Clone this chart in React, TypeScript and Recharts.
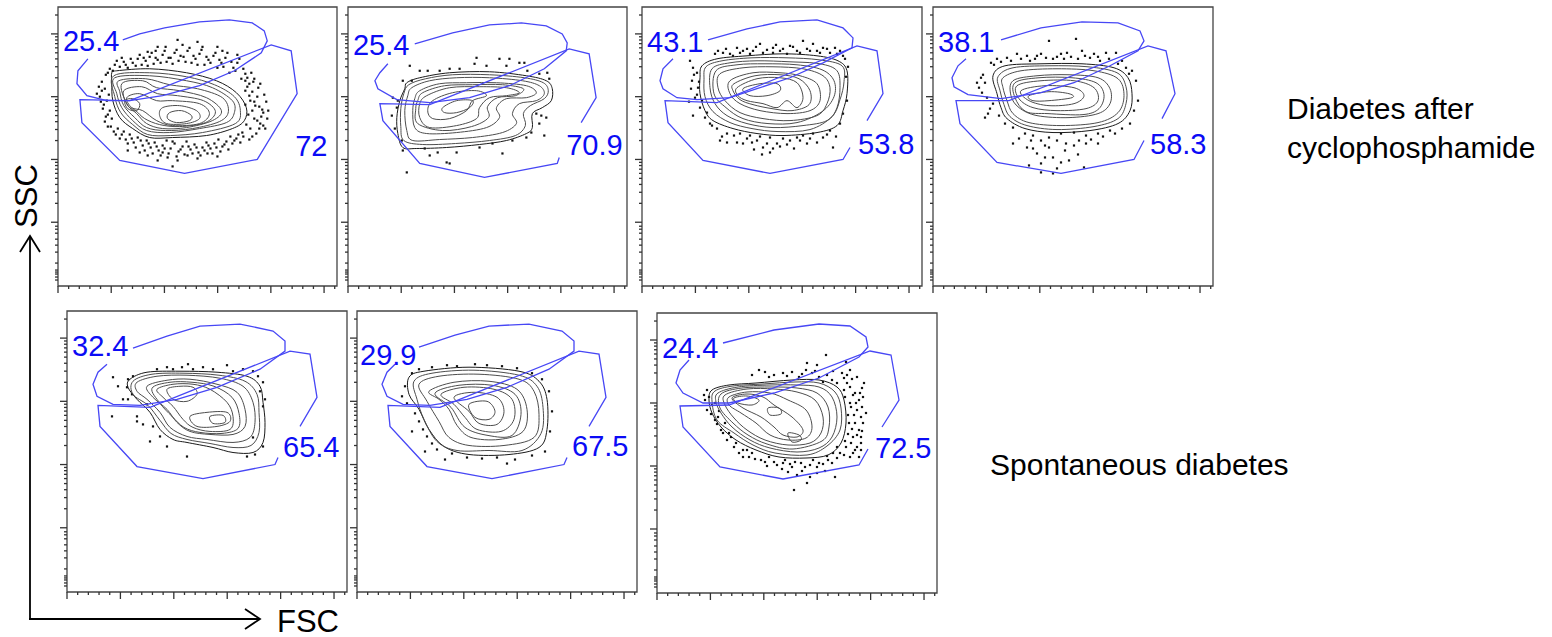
import React from 'react';
import { ScatterChart, Scatter, XAxis, YAxis, ReferenceArea } from 'recharts';

type P = [number, number];

// ---------- axis scales (display channels, 0..280 on both axes) ----------
const AXIS_MAX = 280;
const FSC_MAX = 262144;
const fscTickValues = [0, 10000, 20000, 30000, 40000, 50000, 60000, 70000, 80000, 90000, 100000, 110000, 120000, 130000, 140000, 150000, 160000, 170000, 180000, 190000, 200000, 210000, 220000, 230000, 240000, 250000, 260000];
const fscMajorValues = [0, 50000, 100000, 150000, 200000, 250000];
const sscMajorValues = [100, 1000, 10000, 100000];
const sscMinorMultipliers = [2, 3, 4, 5, 6, 7, 8, 9];
const sscLowTickChannels = [6, 9, 12, 14, 16, 23, 34, 41, 47, 53, 57, 60];

// ---------- Panel 1 : Diabetes after cyclophosphamide ----------
const p1Ellipse: P[] = [[30, 228], [20, 216], [19, 203], [29, 191], [49, 186], [72, 186], [105, 191], [142, 201], [177, 216], [204, 234], [210, 246], [207, 256], [195, 264], [172, 267], [142, 265], [107, 259], [82, 253], [65, 247]];
const p1Gate: P[] = [[22, 187], [24, 164], [62, 126], [127, 113], [200, 127], [240, 193], [234, 236], [214, 242], [72, 186], [22, 187]];
const p1Contours: P[][] = [
  [[54, 214], [59, 216], [92, 218], [129, 214], [159, 206], [179, 194], [189, 179], [187, 166], [175, 158], [149, 151], [115, 149], [92, 149], [75, 158], [62, 169], [55, 186], [54, 203]],
  [[56, 211], [92, 214], [129, 210], [157, 202], [177, 190], [183, 176], [178, 163], [145, 154], [113, 151], [90, 152], [75, 162], [63, 174], [57, 190]],
  [[57, 209], [92, 211], [129, 206], [155, 199], [175, 186], [177, 174], [169, 164], [142, 158], [112, 154], [89, 156], [75, 166], [64, 179], [59, 193]],
  [[61, 206], [88, 208], [112, 202], [140, 198], [165, 189], [171, 175], [162, 165], [135, 158], [108, 156], [89, 159], [77, 169], [66, 181], [62, 195]],
  [[64, 203], [85, 206], [99, 199], [122, 196], [149, 189], [164, 176], [155, 166], [129, 159], [105, 158], [89, 163], [79, 173], [69, 183]],
  [[66, 196], [84, 200], [100, 193], [120, 191], [146, 186], [158, 175], [148, 164], [122, 160], [102, 162], [87, 168], [78, 176], [70, 181]],
  [[69, 189], [82, 193], [99, 186], [115, 186], [142, 183], [152, 173], [142, 163], [115, 161], [99, 166], [85, 176], [74, 179]],
  [[105, 179], [122, 181], [139, 176], [142, 168], [129, 163], [109, 163], [102, 171]],
  [[112, 174], [124, 176], [134, 171], [132, 166], [119, 164], [110, 168]],
  [[67, 186], [75, 188], [82, 183], [79, 176], [70, 178]],
];
const p1Dots: P[] = [
  [48, 212], [52, 218], [57, 222], [62, 220], [66, 225], [70, 219], [75, 224], [80, 228], [84, 222], [88, 226], [92, 230], [96, 223], [100, 227], [105, 232], [109, 225], [113, 229], [117, 234], [121, 226], [126, 230], [130, 236], [134, 224], [138, 228], [142, 233], [147, 222], [151, 227], [156, 231], [160, 219], [164, 224], [168, 229], [172, 214], [176, 219], [180, 224], [184, 208], [188, 213], [192, 203], [125, 242], [108, 240], [145, 240], [98, 236], [165, 236], [180, 232],
  [50, 214], [55, 216], [59, 226], [64, 229], [68, 222], [73, 228], [78, 221], [82, 232], [86, 229], [90, 221], [94, 234], [98, 229], [103, 224], [107, 236], [111, 229], [115, 223], [119, 237], [123, 231], [128, 225], [132, 239], [136, 231], [140, 222], [144, 237], [149, 230], [153, 224], [158, 234], [162, 227], [166, 220], [170, 234], [174, 225], [178, 216], [182, 228], [186, 218], [190, 209], [194, 214], [197, 208], [120, 247], [140, 245], [160, 240], [100, 240], [90, 235],
  [44, 205], [47, 198], [42, 190], [49, 186], [45, 178], [50, 172], [47, 165], [53, 160], [56, 155], [44, 196], [51, 192], [46, 182], [52, 176], [41, 200], [43, 185], [48, 170], [39, 193], [54, 168], [50, 160], [58, 152],
  [60, 158], [64, 152], [68, 147], [72, 152], [76, 144], [80, 149], [85, 141], [89, 146], [93, 139], [97, 144], [101, 136], [105, 141], [109, 146], [113, 138], [117, 143], [121, 135], [125, 140], [129, 145], [133, 137], [137, 142], [141, 134], [145, 139], [149, 144], [153, 138], [157, 143], [161, 147], [165, 140], [169, 145], [173, 150], [177, 146], [181, 152], [90, 131], [110, 129], [130, 131], [150, 133], [70, 136], [105, 134],
  [62, 148], [66, 155], [70, 143], [74, 148], [78, 139], [83, 146], [87, 136], [91, 143], [95, 133], [99, 140], [103, 131], [107, 138], [111, 133], [115, 145], [119, 130], [123, 137], [127, 132], [131, 140], [135, 133], [139, 139], [143, 131], [147, 136], [151, 141], [155, 133], [159, 139], [163, 135], [167, 142], [171, 137], [175, 143], [179, 148], [183, 144], [100, 126], [120, 126], [140, 128], [160, 130], [115, 120], [82, 134],
  [190, 200], [195, 195], [200, 190], [193, 186], [198, 181], [205, 177], [191, 172], [197, 168], [203, 163], [208, 158], [193, 158], [199, 153], [186, 150], [192, 147], [204, 170], [209, 185], [196, 205], [201, 199],
  [188, 196], [192, 191], [197, 185], [202, 180], [206, 174], [188, 182], [195, 176], [200, 166], [206, 161], [189, 162], [195, 150], [202, 158], [185, 154], [210, 168], [207, 192], [203, 203], [188, 206], [211, 176],
];
const p1Labels = [{ text: '25.4', x: 5, y: 246 }, { text: '72', x: 238, y: 141 }];

// ---------- Panel 2 ----------
const p2Ellipse: P[] = [[40, 223], [32, 214], [27, 206], [30, 198], [49, 187], [82, 184], [122, 189], [162, 201], [197, 218], [219, 236], [220, 244], [215, 253], [199, 261], [174, 264], [142, 262], [105, 254], [67, 243]];
const p2Gate: P[] = [[234, 164], [249, 189], [242, 233], [222, 238], [82, 182], [32, 183], [35, 166], [72, 123], [137, 109], [210, 123], [212, 129]];
const p2Contours: P[][] = [
  [[59, 204], [72, 209], [102, 214], [142, 215], [179, 211], [199, 206], [205, 198], [204, 186], [195, 179], [185, 173], [185, 159], [179, 153], [159, 146], [132, 142], [99, 139], [69, 138], [55, 139], [50, 153], [49, 169], [52, 186], [57, 198]],
  [[61, 202], [78, 208], [105, 212], [142, 212], [177, 209], [196, 204], [201, 196], [197, 188], [183, 181], [176, 173], [178, 161], [168, 151], [142, 146], [108, 143], [75, 142], [56, 146], [53, 160], [53, 178], [56, 193]],
  [[64, 199], [82, 206], [109, 209], [142, 209], [175, 206], [192, 201], [197, 193], [189, 186], [172, 183], [165, 173], [169, 163], [155, 154], [125, 149], [92, 147], [65, 146], [59, 156], [57, 176], [60, 191]],
  [[72, 196], [92, 203], [119, 204], [149, 204], [179, 201], [189, 194], [179, 189], [159, 188], [149, 179], [152, 169], [139, 159], [109, 154], [79, 153], [67, 159], [65, 176], [67, 188]],
  [[75, 194], [97, 201], [125, 202], [155, 202], [176, 198], [168, 191], [150, 189], [140, 180], [141, 169], [124, 160], [95, 156], [70, 163], [68, 178], [70, 186]],
  [[79, 191], [102, 199], [132, 200], [159, 199], [172, 194], [159, 191], [142, 189], [132, 179], [129, 168], [109, 161], [82, 159], [72, 169], [72, 183]],
  [[85, 186], [105, 194], [129, 196], [139, 191], [125, 186], [119, 176], [102, 168], [85, 168], [80, 176]],
  [[95, 179], [109, 186], [125, 186], [122, 179], [109, 174], [97, 174]],
];
const p2Dots: P[] = [[62, 221], [64, 206], [72, 216], [80, 216], [92, 216], [102, 218], [112, 218], [129, 229], [127, 223], [139, 221], [152, 228], [159, 221], [162, 228], [172, 224], [177, 224], [180, 216], [200, 214], [202, 208], [192, 213], [45, 189], [49, 179], [44, 171], [47, 158], [54, 146], [55, 136], [59, 114], [82, 131], [99, 124], [102, 123], [109, 134], [132, 139], [145, 143], [155, 133], [165, 146], [179, 149], [192, 163], [197, 151], [199, 169], [189, 173], [194, 171], [184, 154], [90, 134], [77, 138], [55, 206], [50, 186]];
const p2Labels = [{ text: '25.4', x: 5, y: 242 }, { text: '70.9', x: 219, y: 142 }];

// ---------- Panel 3 ----------
const p3Ellipse: P[] = [[66, 247], [105, 258], [138, 265], [175, 267], [201, 259], [211, 249], [210, 239], [181, 224], [148, 209], [115, 198], [88, 189], [55, 187], [35, 189], [21, 198], [18, 206], [21, 218], [31, 228]];
const p3Gate: P[] = [[225, 166], [241, 193], [235, 236], [215, 241], [75, 184], [23, 186], [26, 164], [61, 126], [128, 113], [201, 127], [208, 139]];
const p3Contours: P[][] = [
  [[60, 221], [75, 228], [105, 231], [141, 233], [175, 231], [196, 226], [205, 216], [205, 193], [201, 176], [195, 161], [175, 154], [141, 151], [115, 153], [91, 158], [71, 166], [63, 176], [58, 193], [58, 209]],
  [[64, 220], [80, 226], [110, 229], [145, 229], [177, 227], [200, 221], [202, 205], [198, 187], [190, 170], [168, 157], [136, 155], [110, 158], [88, 164], [71, 175], [63, 190], [62, 207]],
  [[70, 218], [88, 224], [115, 226], [148, 225], [178, 223], [195, 216], [198, 199], [195, 179], [185, 166], [161, 161], [131, 159], [105, 163], [85, 171], [73, 183], [68, 199]],
  [[74, 216], [95, 222], [123, 223], [155, 222], [180, 217], [192, 206], [192, 190], [180, 175], [155, 164], [126, 163], [101, 168], [84, 179], [72, 193]],
  [[78, 213], [101, 219], [131, 220], [161, 218], [181, 211], [188, 199], [185, 183], [175, 171], [148, 166], [121, 168], [98, 174], [83, 186], [76, 199]],
  [[88, 206], [111, 214], [138, 214], [158, 211], [175, 203], [178, 186], [168, 176], [145, 173], [118, 176], [98, 183], [88, 193]],
  [[92, 203], [113, 211], [138, 212], [157, 208], [168, 196], [167, 182], [150, 176], [130, 178], [111, 182], [98, 187], [91, 196]],
  [[95, 199], [115, 208], [138, 209], [155, 204], [161, 189], [155, 179], [145, 186], [135, 179], [121, 183], [105, 186], [96, 191]],
  [[101, 198], [118, 203], [135, 203], [138, 196], [125, 191], [108, 191]],
];
const p3Dots: P[] = [[73, 233], [81, 234], [88, 233], [95, 239], [98, 234], [105, 238], [111, 236], [118, 243], [121, 234], [131, 239], [131, 234], [138, 236], [145, 233], [148, 241], [155, 236], [161, 246], [165, 238], [171, 243], [175, 236], [181, 239], [188, 234], [193, 239], [198, 236], [201, 231], [48, 226], [51, 219], [55, 214], [50, 206], [56, 199], [53, 189], [58, 179], [51, 171], [63, 169], [68, 163], [75, 158], [85, 153], [78, 146], [85, 144], [98, 153], [105, 148], [115, 146], [121, 139], [128, 134], [135, 143], [141, 148], [148, 146], [155, 149], [165, 143], [171, 153], [181, 149], [188, 156], [191, 139], [198, 163], [201, 173], [205, 186], [128, 149], [108, 151], [101, 143], [161, 151], [70, 161], [65, 174], [60, 186],
  [76, 236], [84, 238], [91, 231], [101, 236], [108, 233], [114, 240], [125, 237], [134, 242], [141, 238], [151, 240], [158, 234], [168, 236], [178, 234], [185, 238], [195, 233], [203, 228], [206, 220], [204, 210], [52, 212], [49, 198], [55, 192], [47, 185], [57, 205],
  [80, 150], [92, 151], [95, 144], [110, 144], [118, 150], [125, 143], [131, 138], [138, 140], [145, 142], [152, 138], [158, 146], [168, 148], [175, 144], [185, 152], [194, 150], [120, 132], [112, 137]];
const p3Labels = [{ text: '43.1', x: 5, y: 245 }, { text: '53.8', x: 216, y: 143 }];

// ---------- Panel 4 ----------
const p4Ellipse: P[] = [[68, 247], [108, 259], [149, 265], [185, 264], [207, 256], [211, 246], [205, 236], [177, 221], [141, 204], [108, 194], [68, 188], [35, 192], [21, 200], [19, 209], [25, 221], [33, 228]];
const p4Gate: P[] = [[229, 168], [242, 193], [233, 236], [215, 241], [76, 186], [23, 186], [27, 163], [64, 124], [128, 113], [201, 127], [211, 146]];
const p4Contours: P[][] = [
  [[60, 211], [72, 221], [108, 223], [149, 223], [181, 219], [195, 209], [199, 193], [197, 176], [185, 163], [157, 156], [120, 154], [92, 158], [74, 168], [68, 179], [64, 193]],
  [[65, 210], [80, 219], [116, 221], [155, 220], [184, 214], [193, 200], [193, 183], [185, 168], [161, 160], [124, 157], [94, 161], [77, 170], [71, 182], [67, 196]],
  [[70, 209], [88, 216], [124, 218], [161, 216], [185, 208], [191, 191], [185, 174], [165, 164], [128, 161], [96, 164], [80, 173], [74, 186], [70, 199]],
  [[80, 206], [104, 211], [136, 212], [165, 209], [177, 198], [177, 183], [165, 173], [136, 169], [104, 171], [86, 179], [78, 191]],
  [[82, 204], [106, 209], [139, 209], [163, 204], [171, 192], [166, 178], [150, 172], [115, 173], [93, 175], [82, 189]],
  [[84, 201], [108, 206], [141, 206], [161, 199], [165, 186], [153, 178], [124, 176], [100, 179], [86, 188]],
  [[88, 196], [112, 201], [141, 199], [151, 191], [141, 183], [116, 181], [96, 186]],
  [[96, 191], [116, 195], [136, 193], [139, 189], [116, 186], [100, 186]],
];
const p4Dots: P[] = [[58, 224], [64, 228], [74, 229], [84, 233], [94, 231], [102, 228], [108, 233], [116, 246], [120, 228], [128, 233], [134, 234], [143, 248], [145, 228], [149, 236], [157, 229], [161, 233], [167, 226], [173, 234], [183, 234], [185, 223], [193, 219], [199, 216], [203, 206], [48, 209], [52, 204], [46, 199], [54, 189], [60, 183], [52, 169], [66, 171], [72, 163], [80, 159], [92, 153], [100, 151], [108, 146], [116, 149], [128, 153], [141, 154], [153, 151], [165, 153], [177, 156], [189, 158], [197, 163], [201, 176], [205, 186], [80, 143], [94, 139], [104, 133], [108, 123], [120, 129], [124, 118], [132, 136], [141, 141], [153, 143], [151, 119], [120, 113], [108, 114], [96, 121], [116, 139], [165, 143],
  [61, 222], [68, 225], [78, 226], [88, 228], [97, 226], [104, 231], [113, 229], [124, 230], [131, 228], [138, 230], [152, 231], [165, 230], [176, 228], [189, 226], [196, 213], [50, 212], [44, 204], [49, 194], [57, 178], [55, 173],
  [86, 148], [98, 146], [112, 141], [124, 146], [133, 143], [146, 146], [158, 147], [170, 150], [182, 153], [136, 126], [112, 129], [100, 138], [128, 124], [145, 132]];
const p4Labels = [{ text: '38.1', x: 5, y: 245 }, { text: '58.3', x: 217, y: 143 }];

// ---------- Panel 5 : Spontaneous diabetes ----------
const p5Ellipse: P[] = [[66, 243], [100, 255], [133, 265], [173, 267], [206, 260], [218, 250], [218, 240], [193, 222], [150, 204], [110, 192], [73, 186], [46, 187], [30, 195], [26, 207], [31, 219], [40, 227]];
const p5Gate: P[] = [[233, 165], [250, 194], [243, 237], [223, 240], [83, 184], [31, 186], [33, 165], [70, 125], [136, 113], [208, 127], [211, 134]];
const p5Contours: P[][] = [
  [[63, 212], [80, 219], [113, 220], [150, 219], [180, 215], [193, 205], [196, 189], [198, 169], [196, 149], [186, 139], [166, 139], [146, 144], [120, 149], [106, 152], [93, 162], [83, 179], [70, 192], [61, 204]],
  [[66, 210], [85, 217], [117, 218], [152, 216], [178, 210], [190, 197], [192, 179], [192, 159], [184, 146], [166, 144], [143, 148], [120, 152], [104, 158], [93, 171], [81, 186], [66, 197]],
  [[70, 209], [90, 215], [120, 216], [153, 213], [176, 205], [186, 189], [188, 169], [183, 154], [166, 149], [140, 152], [120, 155], [103, 164], [93, 179], [80, 192], [70, 200]],
  [[80, 205], [100, 211], [123, 212], [150, 207], [170, 199], [178, 182], [178, 165], [166, 157], [143, 157], [123, 160], [110, 169], [100, 182], [86, 194]],
  [[85, 203], [103, 209], [125, 209], [147, 205], [165, 194], [172, 178], [171, 163], [155, 158], [133, 159], [117, 164], [105, 175], [93, 188]],
  [[90, 202], [106, 207], [126, 207], [143, 202], [160, 189], [166, 175], [163, 162], [143, 160], [126, 164], [116, 172], [106, 185], [96, 194]],
  [[100, 202], [113, 205], [126, 204], [130, 197], [120, 190], [106, 192]],
  [[123, 175], [140, 179], [160, 179], [163, 170], [150, 165], [130, 165]],
  [[143, 175], [156, 176], [158, 169], [146, 168]],
];
const p5Dots: P[] = [[46, 214], [51, 205], [60, 204], [61, 212], [66, 215], [90, 222], [100, 224], [106, 222], [115, 224], [121, 227], [126, 222], [136, 224], [146, 222], [160, 226], [166, 220], [176, 222], [186, 220], [191, 215], [196, 209], [193, 200], [198, 192], [196, 185], [56, 192], [61, 192], [45, 175], [70, 175], [70, 170], [76, 167], [86, 165], [93, 155], [100, 145], [120, 135], [180, 135], [188, 137], [196, 145], [186, 154], [83, 150], [80, 187], [65, 197]];
const p5Labels = [{ text: '32.4', x: 5, y: 245 }, { text: '65.4', x: 216, y: 144 }];

// ---------- Panel 6 ----------
const p6Ellipse: P[] = [[62, 244], [98, 256], [132, 265], [172, 267], [205, 260], [217, 250], [217, 240], [192, 222], [150, 204], [110, 192], [73, 186], [46, 187], [30, 195], [25, 207], [30, 219], [38, 227]];
const p6Gate: P[] = [[232, 165], [249, 194], [242, 237], [222, 240], [83, 184], [31, 186], [33, 165], [70, 125], [135, 113], [207, 127], [210, 134]];
const p6Contours: P[][] = [
  [[52, 214], [67, 220], [112, 224], [162, 220], [182, 210], [190, 192], [190, 162], [182, 144], [152, 137], [112, 137], [87, 145], [72, 162], [62, 182], [52, 197]],
  [[57, 210], [75, 218], [117, 221], [162, 216], [180, 205], [186, 184], [184, 158], [165, 141], [132, 141], [100, 141], [80, 150], [67, 172], [60, 192]],
  [[62, 207], [82, 215], [122, 217], [162, 212], [177, 200], [182, 177], [177, 154], [147, 146], [112, 146], [92, 154], [82, 170], [70, 190]],
  [[72, 200], [97, 209], [132, 210], [160, 202], [170, 182], [166, 160], [142, 152], [114, 154], [100, 166], [92, 182], [82, 192]],
  [[78, 198], [102, 206], [135, 206], [158, 197], [164, 177], [155, 156], [131, 156], [108, 164], [94, 184]],
  [[84, 197], [107, 204], [137, 202], [155, 192], [157, 172], [144, 160], [120, 162], [108, 174], [97, 187]],
  [[97, 194], [117, 199], [140, 194], [147, 180], [140, 167], [122, 168], [112, 180]],
  [[112, 187], [130, 190], [138, 180], [132, 172], [118, 174]],
];
const p6Dots: P[] = [[55, 218], [62, 222], [75, 224], [90, 226], [100, 225], [118, 227], [130, 226], [145, 225], [160, 223], [175, 218], [185, 212], [48, 205], [45, 195], [50, 188], [58, 178], [62, 170], [66, 162], [70, 155], [75, 148], [80, 142], [95, 138], [110, 134], [125, 133], [140, 134], [158, 132], [175, 136], [188, 140], [193, 160], [195, 180], [192, 200], [88, 132], [150, 128], [55, 160], [68, 140]];
const p6Labels = [{ text: '29.9', x: 3, y: 236 }, { text: '67.5', x: 215, y: 145 }];

// ---------- Panel 7 ----------
const p7Ellipse: P[] = [[66, 250], [117, 263], [162, 269], [193, 267], [209, 256], [211, 246], [202, 236], [162, 215], [117, 200], [72, 190], [46, 190], [26, 200], [19, 210], [23, 223], [32, 233]];
const p7Gate: P[] = [[225, 166], [242, 193], [234, 238], [213, 242], [72, 188], [23, 187], [26, 166], [63, 126], [126, 114], [202, 128], [211, 144]];
const p7Contours: P[][] = [
  [[55, 203], [72, 208], [99, 210], [135, 213], [162, 213], [180, 206], [187, 193], [189, 170], [184, 150], [171, 138], [149, 135], [122, 136], [99, 143], [79, 153], [64, 166], [55, 180], [52, 193]],
  [[58, 202], [76, 207], [106, 209], [138, 211], [162, 210], [178, 201], [184, 185], [183, 163], [170, 147], [150, 138], [118, 140], [96, 148], [77, 160], [60, 173], [55, 192]],
  [[61, 200], [81, 206], [113, 208], [140, 208], [162, 206], [175, 196], [180, 176], [175, 156], [162, 145], [140, 141], [113, 145], [93, 153], [75, 166], [64, 180], [59, 191]],
  [[64, 199], [85, 205], [115, 206], [140, 205], [160, 200], [171, 186], [172, 166], [165, 152], [136, 144], [110, 149], [91, 158], [76, 170], [63, 185]],
  [[68, 198], [90, 204], [117, 204], [140, 201], [158, 193], [166, 176], [164, 160], [153, 150], [131, 148], [108, 153], [90, 163], [77, 175], [68, 188]],
  [[72, 196], [90, 201], [113, 200], [131, 193], [149, 183], [155, 166], [149, 155], [131, 153], [113, 158], [99, 170], [84, 180], [72, 188]],
  [[75, 195], [90, 199], [106, 196], [117, 188], [135, 176], [146, 163], [140, 156], [126, 158], [117, 166], [104, 176], [86, 185]],
  [[77, 195], [90, 197], [102, 193], [95, 188], [81, 190]],
  [[131, 160], [142, 158], [144, 153], [135, 151]],
  [[111, 185], [122, 185], [124, 179], [113, 178]],
];
const p7Dots: P[] = [[102, 223], [117, 218], [126, 220], [135, 221], [142, 216], [149, 223], [155, 220], [162, 216], [166, 211], [169, 238], [189, 231], [175, 213], [180, 210], [187, 203], [193, 206], [198, 200], [202, 193], [193, 190], [200, 183], [204, 176], [198, 170], [202, 163], [196, 156], [204, 150], [198, 143], [193, 136], [202, 136], [189, 146], [180, 146], [50, 203], [48, 193], [55, 188], [50, 183], [61, 176], [68, 170], [72, 160], [79, 150], [86, 143], [95, 140], [104, 133], [117, 131], [126, 130], [135, 126], [144, 130], [153, 128], [162, 130], [171, 133], [180, 135], [131, 121], [140, 118], [153, 116], [137, 103], [178, 116], [64, 163], [70, 153], [86, 136], [187, 215], [193, 223], [207, 210], [204, 156],
  [185, 220], [190, 218], [195, 214], [200, 216], [205, 205], [190, 210], [196, 198], [203, 200], [188, 196], [194, 186], [199, 190], [205, 186], [191, 178], [197, 178], [206, 170], [192, 170], [195, 164], [200, 158], [191, 159], [205, 162], [194, 150], [200, 146], [188, 152], [204, 143], [196, 140], [187, 138], [183, 140], [176, 140], [206, 196], [209, 180],
  [92, 136], [98, 134], [108, 131], [112, 136], [120, 128], [128, 133], [133, 129], [138, 131], [148, 126], [156, 133], [160, 126], [166, 129], [170, 137], [175, 130], [145, 122], [125, 124], [110, 127], [160, 120], [150, 110], [168, 122],
  [47, 198], [52, 196], [54, 179], [58, 173], [60, 169], [66, 160], [74, 156], [77, 146], [82, 140], [90, 143], [58, 190], [62, 182],
  [95, 218], [108, 221], [112, 216], [130, 217], [145, 219], [158, 222], [170, 218], [176, 222], [160, 228], [150, 230]];
const p7Labels = [{ text: '24.4', x: 5, y: 245 }, { text: '72.5', x: 218, y: 145 }];

// ---------- helpers ----------
const toXY = (pts: P[]) => pts.map(([x, y]) => ({ x, y }));
const fscToChannel = (v: number) => (v / FSC_MAX) * AXIS_MAX;
const sscToChannel = (v: number) => 64 + (Math.log10(v) - 2) * 63;

const xTicks = fscTickValues.map(fscToChannel);
const xMajor = fscMajorValues.map(fscToChannel);
const yMajor = sscMajorValues.map(sscToChannel);
const yMinor: number[] = [];
sscMajorValues.forEach((d) => sscMinorMultipliers.forEach((k) => { const v = d * k; if (v <= FSC_MAX) yMinor.push(sscToChannel(v)); }));
const yTicks = [...sscLowTickChannels, ...yMajor, ...yMinor].sort((a, b) => a - b);

const isMajor = (list: number[], v: number) => list.some((m) => Math.abs(m - v) < 0.01);

const XTick = (props: any) => {
  const { x, y, payload } = props;
  const len = isMajor(xMajor, payload.value) ? 7 : 3;
  return <line x1={x} y1={y} x2={x} y2={y + len} stroke="#333" strokeWidth={1.3} />;
};
const YTick = (props: any) => {
  const { x, y, payload } = props;
  const len = isMajor(yMajor, payload.value) ? 7 : 3;
  return <line x1={x} y1={y} x2={x - len} y2={y} stroke="#333" strokeWidth={1.3} />;
};

// smooth closed curve through the projected points (Catmull-Rom)
const closedSmoothPath = (pts: { x: number; y: number }[]) => {
  const n = pts.length;
  if (n < 3) return '';
  let d = `M${pts[0].x},${pts[0].y}`;
  for (let i = 0; i < n; i++) {
    const p0 = pts[(i - 1 + n) % n], p1 = pts[i], p2 = pts[(i + 1) % n], p3 = pts[(i + 2) % n];
    const c1x = p1.x + (p2.x - p0.x) / 6, c1y = p1.y + (p2.y - p0.y) / 6;
    const c2x = p2.x - (p3.x - p1.x) / 6, c2y = p2.y - (p3.y - p1.y) / 6;
    d += ` C${c1x},${c1y} ${c2x},${c2y} ${p2.x},${p2.y}`;
  }
  return d + ' Z';
};
const contourLine = (color: string) => (lp: any) => (
  <path d={closedSmoothPath(lp.points || [])} fill="none" stroke={color} strokeWidth={1} />
);

const Nothing = () => <g />;
const DotShape = (p: any) => <rect x={p.cx - 1.1} y={p.cy - 1.1} width={2.2} height={2.2} fill="#111" />;
const LabelShape = (p: any) => (
  <text x={p.cx} y={p.cy} fill="#0b0bf5" fontSize={29} fontFamily="'Liberation Sans', Arial, sans-serif" dominantBaseline="central">
    {p.payload.text}
  </text>
);

type PanelProps = {
  left: number; top: number; w: number; h: number;
  ellipse: P[]; gate: P[]; gateClosed?: boolean;
  contours: P[][]; dots: P[]; labels: { text: string; x: number; y: number }[];
};

function Panel(props: PanelProps) {
  const { left, top, w, h, ellipse, gate, gateClosed, contours, dots, labels } = props;
  const AXW = 12, MT = 2, MR = 3;
  return (
    <div style={{ position: 'absolute', left: left - AXW, top: top - MT }}>
      <ScatterChart width={w + AXW + MR} height={h + MT + AXW} margin={{ top: MT, right: MR, bottom: 0, left: 0 }}>
        <XAxis type="number" dataKey="x" domain={[0, AXIS_MAX]} ticks={xTicks} interval={0} tickSize={0} tickMargin={0} height={AXW} axisLine={false} tickLine={false} tick={(tp: any) => <XTick {...tp} />} />
        <YAxis type="number" dataKey="y" domain={[0, AXIS_MAX]} ticks={yTicks} interval={0} tickSize={0} tickMargin={0} width={AXW} axisLine={false} tickLine={false} tick={(tp: any) => <YTick {...tp} />} />
        <ReferenceArea x1={0} x2={AXIS_MAX} y1={0} y2={AXIS_MAX} fill="#ffffff" fillOpacity={0} stroke="#444" strokeWidth={1.3} strokeOpacity={1} ifOverflow="visible" />
        <Scatter data={toXY(dots)} shape={DotShape} isAnimationActive={false} />
        {contours.map((c, i) => (
          <Scatter key={'c' + i} data={toXY(c)} shape={Nothing} line={contourLine(i === 0 ? '#1a1a1a' : '#4d4d4d')} isAnimationActive={false} />
        ))}
        <Scatter data={toXY(ellipse)} shape={Nothing} line={{ stroke: '#4747f5', strokeWidth: 1.3 }} lineJointType="linear" isAnimationActive={false} />
        <Scatter data={toXY(gate)} shape={Nothing} line={{ stroke: '#4747f5', strokeWidth: 1.3 }} lineJointType={gateClosed ? 'linearClosed' : 'linear'} isAnimationActive={false} />
        <Scatter data={labels} shape={LabelShape} isAnimationActive={false} />
      </ScatterChart>
    </div>
  );
}

const textFont = "'Liberation Sans', Arial, sans-serif";

export default function App() {
  return (
    <div style={{ position: 'absolute', left: 0, top: 0, width: 1552, height: 637, background: '#fff', overflow: 'hidden' }}>
      <Panel left={58} top={7} w={279} h={279} ellipse={p1Ellipse} gate={p1Gate} gateClosed contours={p1Contours} dots={p1Dots} labels={p1Labels} />
      <Panel left={348} top={7} w={279} h={279} ellipse={p2Ellipse} gate={p2Gate} contours={p2Contours} dots={p2Dots} labels={p2Labels} />
      <Panel left={642} top={7} w={280} h={279} ellipse={p3Ellipse} gate={p3Gate} contours={p3Contours} dots={p3Dots} labels={p3Labels} />
      <Panel left={933} top={7} w={280} h={279} ellipse={p4Ellipse} gate={p4Gate} contours={p4Contours} dots={p4Dots} labels={p4Labels} />
      <Panel left={67} top={311} w={280} h={281} ellipse={p5Ellipse} gate={p5Gate} contours={p5Contours} dots={p5Dots} labels={p5Labels} />
      <Panel left={357} top={311} w={280} h={281} ellipse={p6Ellipse} gate={p6Gate} contours={p6Contours} dots={p6Dots} labels={p6Labels} />
      <Panel left={657} top={313} w={280} h={280} ellipse={p7Ellipse} gate={p7Gate} contours={p7Contours} dots={p7Dots} labels={p7Labels} />
      <svg width={1552} height={637} style={{ position: 'absolute', left: 0, top: 0, pointerEvents: 'none' }}>
        <line x1={30} y1={619} x2={30} y2={236} stroke="#000" strokeWidth={1.8} />
        <polyline points="20,252 30,236 40,252" fill="none" stroke="#000" strokeWidth={1.8} />
        <line x1={29} y1={619} x2={260} y2={619} stroke="#000" strokeWidth={1.8} />
        <polyline points="245,609 260,619 245,629" fill="none" stroke="#000" strokeWidth={1.8} />
        <text x={26} y={196} fontSize={31} fontFamily={textFont} fill="#000" textAnchor="middle" dominantBaseline="central" transform="rotate(-90 26 196)">SSC</text>
        <text x={308} y={621} fontSize={31} fontFamily={textFont} fill="#000" textAnchor="middle" dominantBaseline="central">FSC</text>
        <text x={1287} y={119} fontSize={30} fontFamily={textFont} fill="#000">Diabetes after</text>
        <text x={1287} y={158} fontSize={30} fontFamily={textFont} fill="#000">cyclophosphamide</text>
        <text x={990} y={475} fontSize={30} fontFamily={textFont} fill="#000">Spontaneous diabetes</text>
      </svg>
    </div>
  );
}
